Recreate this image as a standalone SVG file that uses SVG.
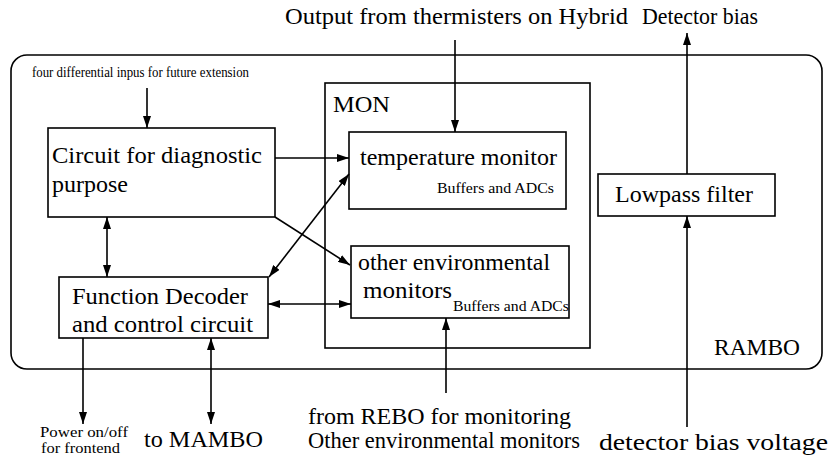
<svg xmlns="http://www.w3.org/2000/svg" width="832" height="464" viewBox="0 0 832 464" font-family="Liberation Serif, Times New Roman, DejaVu Serif, serif">
<defs>
<marker id="ah" viewBox="0 0 12 8" refX="12" refY="4" markerWidth="12" markerHeight="8" markerUnits="userSpaceOnUse" orient="auto-start-reverse">
<path d="M0,0 L12,4 L0,8 z" fill="#000"/>
</marker>
<style>
.box{fill:none;stroke:#000;stroke-width:1.6}
.t{font-size:24px;fill:#000}
.s{font-size:15px;fill:#000}
.c{fill:none;stroke:#000;stroke-width:1.6}
.a{marker-end:url(#ah)}
.d{marker-start:url(#ah);marker-end:url(#ah)}
</style>
</defs>
<rect width="832" height="464" fill="#fff"/>
<g id="rambo">
<rect class="box" x="11" y="55" width="811" height="314" rx="16" ry="16"/>
<text class="t" x="714" y="355" textLength="86" lengthAdjust="spacingAndGlyphs">RAMBO</text>
</g>
<g id="mon">
<rect class="box" x="325" y="83" width="265" height="265"/>
<text class="t" x="333" y="112" textLength="57" lengthAdjust="spacingAndGlyphs">MON</text>
</g>
<g id="diag">
<rect class="box" x="48" y="128" width="227" height="89"/>
<text class="t" x="52" y="163" textLength="210" lengthAdjust="spacingAndGlyphs">Circuit for diagnostic</text>
<text class="t" x="52" y="192" textLength="76" lengthAdjust="spacingAndGlyphs">purpose</text>
</g>
<g id="decoder">
<rect class="box" x="59" y="277" width="209" height="61"/>
<text class="t" x="72" y="304" textLength="176" lengthAdjust="spacingAndGlyphs">Function Decoder</text>
<text class="t" x="72" y="332" textLength="181" lengthAdjust="spacingAndGlyphs">and control circuit</text>
</g>
<g id="temp">
<rect class="box" x="349" y="132" width="217" height="77"/>
<text class="t" x="360" y="165" textLength="197" lengthAdjust="spacingAndGlyphs">temperature monitor</text>
<text class="s" x="437" y="193" textLength="117" lengthAdjust="spacingAndGlyphs">Buffers and ADCs</text>
</g>
<g id="env">
<rect class="box" x="351" y="246" width="218" height="72"/>
<text class="t" x="358" y="270" textLength="192" lengthAdjust="spacingAndGlyphs">other environmental</text>
<text class="t" x="363" y="298" textLength="89" lengthAdjust="spacingAndGlyphs">monitors</text>
<text class="s" x="453" y="311" textLength="116" lengthAdjust="spacingAndGlyphs">Buffers and ADCs</text>
</g>
<g id="lowpass">
<rect class="box" x="598" y="174" width="177" height="42"/>
<text class="t" x="615" y="202" textLength="138" lengthAdjust="spacingAndGlyphs">Lowpass filter</text>
</g>
<g id="labels">
<text class="s" x="32" y="77" textLength="217" lengthAdjust="spacingAndGlyphs">four differential inpus for future extension</text>
<text class="t" x="285" y="24" textLength="343" lengthAdjust="spacingAndGlyphs">Output from thermisters on Hybrid</text>
<text class="t" x="642" y="24" textLength="116" lengthAdjust="spacingAndGlyphs">Detector bias</text>
<text class="s" x="40" y="437" textLength="88" lengthAdjust="spacingAndGlyphs">Power on/off</text>
<text class="s" x="41" y="453" textLength="79" lengthAdjust="spacingAndGlyphs">for frontend</text>
<text class="t" x="144" y="447" textLength="119" lengthAdjust="spacingAndGlyphs">to MAMBO</text>
<text class="t" x="308" y="424" textLength="263" lengthAdjust="spacingAndGlyphs">from REBO for monitoring</text>
<text class="t" x="308" y="448" textLength="272" lengthAdjust="spacingAndGlyphs">Other environmental monitors</text>
<text class="t" x="599" y="450" textLength="229" lengthAdjust="spacingAndGlyphs">detector bias voltage</text>
</g>
<g id="connectors">
<line class="c a" x1="147" y1="88" x2="147" y2="128"/>
<line class="c a" x1="455" y1="40" x2="455" y2="132"/>
<line class="c a" x1="687" y1="174" x2="687" y2="33"/>
<line class="c a" x1="687" y1="427" x2="687" y2="216"/>
<line class="c a" x1="275" y1="158" x2="349" y2="158"/>
<line class="c a" x1="275" y1="217" x2="350" y2="265"/>
<line class="c d" x1="269" y1="277" x2="349" y2="174"/>
<line class="c d" x1="107" y1="217" x2="107" y2="277"/>
<line class="c d" x1="268" y1="304" x2="351" y2="304"/>
<line class="c a" x1="83" y1="338" x2="83" y2="424"/>
<line class="c d" x1="211" y1="338" x2="211" y2="424"/>
<line class="c a" x1="446" y1="393" x2="446" y2="318"/>
</g>
</svg>
